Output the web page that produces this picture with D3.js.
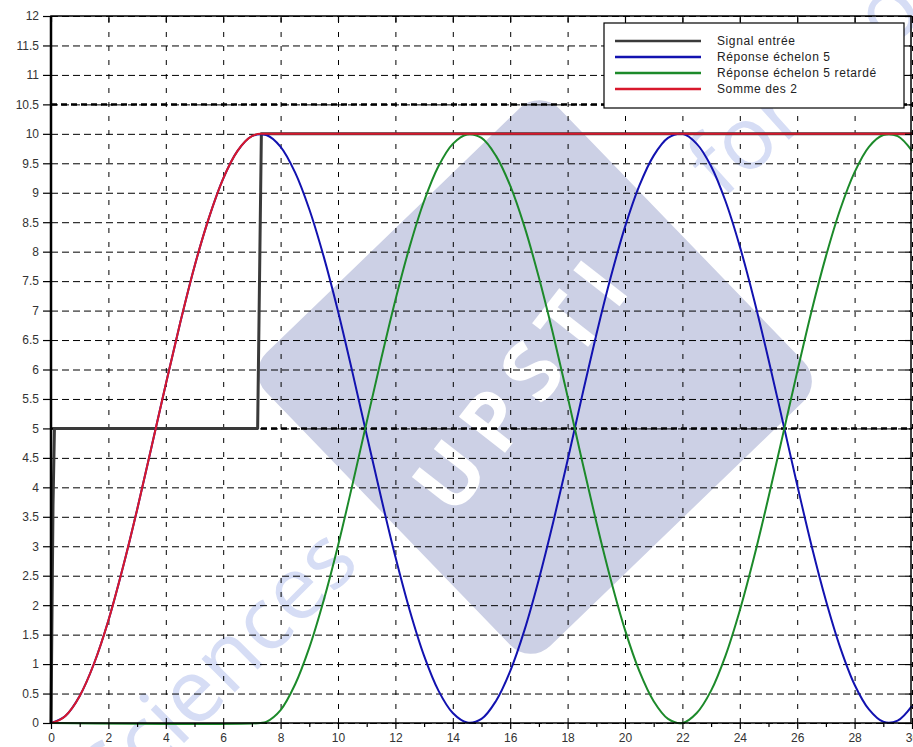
<!DOCTYPE html>
<html>
<head>
<meta charset="utf-8">
<script src="https://cdn.jsdelivr.net/npm/d3@7"></script>
<style>
  body { margin: 0; background: #fff; }
  svg { display: block; font-family: 'Liberation Sans', Arial, sans-serif; }
</style>
</head>
<body>
<div id="chart"></div>
<script>
// temps (s), pas de 0.5
const times = [0, 0.5, 1, 1.5, 2, 2.5, 3, 3.5, 4, 4.5, 5, 5.5, 6, 6.5, 7, 7.5, 8, 8.5, 9, 9.5,
  10, 10.5, 11, 11.5, 12, 12.5, 13, 13.5, 14, 14.5, 15, 15.5, 16, 16.5, 17, 17.5, 18, 18.5, 19, 19.5,
  20, 20.5, 21, 21.5, 22, 22.5, 23, 23.5, 24, 24.5, 25, 25.5, 26, 26.5, 27, 27.5, 28, 28.5, 29, 29.5, 30];

// Réponse échelon 5
const stepResponse = [0, 0.12, 0.46, 1.01, 1.74, 2.63, 3.62, 4.68, 5.75, 6.79, 7.75, 8.57, 9.24, 9.71, 9.96,
  9.98, 9.78, 9.35, 8.72, 7.92, 6.99, 5.96, 4.89, 3.83, 2.82, 1.91, 1.14, 0.55, 0.17, 0.01,
  0.07, 0.37, 0.88, 1.58, 2.44, 3.41, 4.46, 5.54, 6.59, 7.56, 8.42, 9.12, 9.63, 9.93, 10.0,
  9.83, 9.45, 8.86, 8.09, 7.18, 6.17, 5.11, 4.04, 3.01, 2.08, 1.28, 0.65, 0.23, 0.02, 0.04, 0.29];

// Réponse échelon 5 retardé
const delayedTimes = [0, 7.3, 7.5, 8, 8.5, 9, 9.5, 10, 10.5, 11, 11.5, 12, 12.5, 13, 13.5, 14, 14.5,
  15, 15.5, 16, 16.5, 17, 17.5, 18, 18.5, 19, 19.5, 20, 20.5, 21, 21.5, 22, 22.5, 23, 23.5, 24,
  24.5, 25, 25.5, 26, 26.5, 27, 27.5, 28, 28.5, 29, 29.5, 30];
const delayedResponse = [0, 0, 0.02, 0.22, 0.65, 1.28, 2.08, 3.01, 4.04, 5.11, 6.17, 7.18, 8.09, 8.86, 9.45, 9.83, 9.99,
  9.93, 9.63, 9.12, 8.42, 7.56, 6.59, 5.54, 4.46, 3.41, 2.44, 1.58, 0.88, 0.37, 0.07, 0.0, 0.17, 0.55, 1.14, 1.91,
  2.82, 3.83, 4.89, 5.96, 6.99, 7.92, 8.72, 9.35, 9.78, 9.98, 9.96, 9.71];

// Somme des 2
const sumTimes = [0, 0.5, 1, 1.5, 2, 2.5, 3, 3.5, 4, 4.5, 5, 5.5, 6, 6.5, 7, 7.3, 30];
const sumValues = [0, 0.12, 0.46, 1.01, 1.74, 2.63, 3.62, 4.68, 5.75, 6.79, 7.75, 8.57, 9.24, 9.71, 9.96, 10, 10];

// Signal entrée
const inputTimes = [0, 0.07, 0.12, 7.2, 7.33, 30];
const inputValues = [0, 3.7, 5, 5, 10, 10];

const referenceLevels = [5, 10.5];

const xTicks = d3.range(0, 31, 2);
const xMinorTicks = d3.range(1, 30, 2);
const yTicks = d3.range(0, 12.01, 0.5);

const seriesNames = ['Signal entrée', 'Réponse échelon 5', 'Réponse échelon 5 retardé', 'Somme des 2'];
const seriesColors = ['#3a3a3a', '#1212b0', '#1c8a2a', '#d8182c'];

const W = 913, H = 747;
const margin = { top: 16, right: 1, bottom: 24, left: 51 };

const svg = d3.select('#chart').append('svg')
  .attr('width', W)
  .attr('height', H);

const x = d3.scaleLinear().domain([0, 30]).range([margin.left, W - margin.right]);
const y = d3.scaleLinear().domain([0, 12]).range([H - margin.bottom, margin.top]);

// filigrane (losange)
const cx = 535, cy = 377, side = 408;
svg.append('rect')
  .attr('x', cx - side / 2).attr('y', cy - side / 2)
  .attr('width', side).attr('height', side)
  .attr('rx', 28)
  .attr('fill', '#ccd0e5')
  .attr('transform', `rotate(46 ${cx} ${cy})`);

svg.append('text')
  .text('UPSTI')
  .attr('x', cx + 12).attr('y', cy + 22)
  .attr('text-anchor', 'middle')
  .attr('font-family', 'Open Sans, sans-serif')
  .attr('font-size', 82)
  .attr('font-weight', 'bold')
  .attr('letter-spacing', 14)
  .attr('fill', '#ffffff')
  .attr('transform', `rotate(-52 ${cx + 12} ${cy + 22})`);

const wmText = [
  { label: 'Sciences', xPos: 362, yPos: 565, angle: -45 },
  { label: 'for mo', xPos: 722, yPos: 200, angle: -42 }
];
svg.selectAll('text.wm')
  .data(wmText)
  .enter()
  .append('text')
  .classed('wm', true)
  .text(d => d.label)
  .attr('x', d => d.xPos).attr('y', d => d.yPos)
  .attr('text-anchor', (d, i) => i === 0 ? 'end' : 'start')
  .attr('font-family', 'Open Sans, sans-serif')
  .attr('font-size', 88)
  .attr('fill', '#d6ddf5')
  .attr('transform', d => `rotate(${d.angle} ${d.xPos} ${d.yPos})`);

// grille
const gridH = svg.append('g')
  .attr('transform', `translate(${margin.left},0)`)
  .call(d3.axisLeft(y).tickValues(yTicks).tickSize(-(W - margin.left - margin.right)).tickFormat(''));
gridH.select('.domain').remove();
gridH.selectAll('line').attr('stroke', '#000').attr('stroke-dasharray', '7,4');

const gridV = svg.append('g')
  .attr('transform', `translate(0,${H - margin.bottom})`)
  .call(d3.axisBottom(x).tickValues(xTicks).tickSize(-(H - margin.top - margin.bottom)).tickFormat(''));
gridV.select('.domain').remove();
gridV.selectAll('line').attr('stroke', '#000').attr('stroke-dasharray', '5,9');

svg.selectAll('line.ref')
  .data(referenceLevels)
  .enter()
  .append('line')
  .classed('ref', true)
  .attr('x1', x(0)).attr('x2', x(30))
  .attr('y1', d => y(d)).attr('y2', d => y(d))
  .attr('stroke', '#000')
  .attr('stroke-width', 2.5)
  .attr('stroke-dasharray', '6,4');

// courbes
const line = d3.line()
  .x(d => x(d[0]))
  .y(d => y(d[1]));
const smooth = d3.line()
  .x(d => x(d[0]))
  .y(d => y(d[1]))
  .curve(d3.curveCatmullRom.alpha(0.5));
const monotone = d3.line()
  .x(d => x(d[0]))
  .y(d => y(d[1]))
  .curve(d3.curveMonotoneX);

const series = [
  { pts: d3.zip(inputTimes, inputValues), gen: line, width: 3 },
  { pts: d3.zip(times, stepResponse), gen: smooth, width: 2 },
  { pts: d3.zip(delayedTimes, delayedResponse), gen: smooth, width: 2 },
  { pts: d3.zip(sumTimes, sumValues), gen: monotone, width: 2 }
];

svg.append('g')
  .selectAll('path')
  .data(series)
  .enter()
  .append('path')
  .attr('d', d => d.gen(d.pts))
  .attr('fill', 'none')
  .attr('stroke', (d, i) => seriesColors[i])
  .attr('stroke-width', d => d.width)
  .attr('stroke-linejoin', 'round');

// axes
const styleAxis = g => {
  g.selectAll('.domain').remove();
  g.selectAll('.tick line').attr('stroke', '#000').attr('stroke-width', 1.2);
  g.selectAll('.tick text').attr('fill', '#333').attr('font-size', 12)
    .attr('font-family', 'Liberation Sans, Arial, sans-serif');
};

svg.append('g')
  .attr('transform', `translate(${margin.left},0)`)
  .call(d3.axisLeft(y).tickValues(yTicks).tickSize(8).tickPadding(4).tickFormat(d => String(d)))
  .call(styleAxis);

svg.append('g')
  .attr('transform', `translate(0,${H - margin.bottom})`)
  .call(d3.axisBottom(x).tickValues(xTicks).tickSize(6).tickPadding(4).tickFormat(d => String(d)))
  .call(styleAxis);

svg.append('g')
  .attr('transform', `translate(0,${H - margin.bottom})`)
  .call(d3.axisBottom(x).tickValues(xMinorTicks).tickSize(4).tickFormat(''))
  .call(styleAxis);

svg.append('g')
  .attr('transform', `translate(0,${margin.top})`)
  .call(d3.axisTop(x).tickValues(xTicks).tickSize(-6).tickFormat(''))
  .call(styleAxis);

svg.append('g')
  .attr('transform', `translate(${W - margin.right - 1},0)`)
  .call(d3.axisRight(y).tickValues(yTicks).tickSize(-6).tickFormat(''))
  .call(styleAxis);

// cadre
svg.append('rect')
  .attr('x', x(0)).attr('y', y(12))
  .attr('width', x(30) - x(0) - 1).attr('height', y(0) - y(12))
  .attr('fill', 'none')
  .attr('stroke', '#000')
  .attr('stroke-width', 1.5);
svg.append('line')
  .attr('x1', x(0)).attr('x2', x(0))
  .attr('y1', y(12)).attr('y2', y(0))
  .attr('stroke', '#000').attr('stroke-width', 2.5);

// légende
const legend = svg.append('g').attr('transform', 'translate(604,23)');
legend.append('rect')
  .attr('width', 300).attr('height', 85)
  .attr('fill', '#fff')
  .attr('stroke', '#000')
  .attr('stroke-width', 1.2);

const items = legend.selectAll('g.item')
  .data(seriesNames)
  .enter()
  .append('g')
  .classed('item', true)
  .attr('transform', (d, i) => `translate(0,${18 + i * 16})`);
items.append('line')
  .attr('x1', 11).attr('x2', 97)
  .attr('stroke', (d, i) => seriesColors[i])
  .attr('stroke-width', 2.5);
items.append('text')
  .text(d => d)
  .attr('x', 113)
  .attr('dy', '0.35em')
  .attr('font-size', 12)
  .attr('letter-spacing', 0.6)
  .attr('fill', '#222');
</script>
</body>
</html>
